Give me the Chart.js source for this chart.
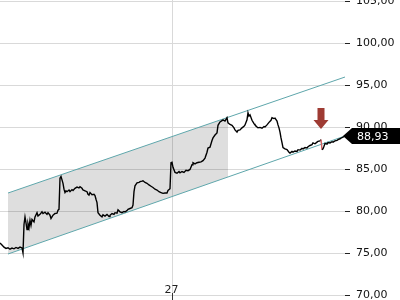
<!DOCTYPE html>
<html lang="en">
<head>
  <meta charset="UTF-8">
  <title>Price channel</title>
  <script src="https://cdn.jsdelivr.net/npm/chart.js"></script>
  <style>
    html, body { margin: 0; padding: 0; background: #fff; }
    canvas { display: block; }
  </style>
</head>
<body>
  <canvas id="myChart" width="400" height="300" style="width: 400px; height: 300px;"></canvas>

  <script>
    // price series: bar index / close
    const barIndex = [0,2,4,6,8,10,12,14,16,18,20,22,23,24,25,26,27,28,29,30,31,32,34,35,37,38,40,42,43,45,47,48,50,51,52,53,55,57,58,59,60,61,62,63,64,65,66,67,69,70,72,73,75,77,79,80,82,83,85,87,88,89,90,92,94,95,96,97,98,100,102,103,105,107,109,110,112,114,115,117,118,120,122,124,125,127,128,130,132,133,134,135,137,139,140,142,143,145,147,149,151,153,155,157,159,161,163,165,167,168,170,171,172,173,175,177,179,180,182,184,186,188,190,192,193,195,197,199,201,203,205,207,208,210,212,213,215,217,218,220,222,223,225,227,228,230,232,234,235,237,238,240,242,244,245,247,248,249,250,252,254,255,257,258,260,262,264,265,267,269,271,272,274,275,277,278,279,280,281,282,283,285,287,289,290,292,293,295,297,298,300,302,303,305,307,308,310,312,313,315,317,318,320,321,322,323,324,325,327,328,330,332,333,335,337,338,340,342,344,345];
    const closes = [76.19,75.95,75.70,75.55,75.62,75.45,75.58,75.50,75.66,75.55,75.70,75.60,75.00,78.40,79.30,78.60,77.80,78.50,78.00,78.90,78.30,79.00,78.70,79.30,79.80,79.40,79.60,79.90,79.70,79.85,79.60,79.80,79.50,79.10,79.30,79.50,79.70,79.75,80.10,80.20,83.90,84.10,83.70,83.30,82.60,82.20,82.40,82.30,82.50,82.30,82.55,82.45,82.70,82.85,82.75,82.90,82.70,82.50,82.40,82.30,82.00,81.90,82.20,81.95,82.00,81.85,81.40,81.00,79.80,79.50,79.30,79.55,79.40,79.60,79.35,79.50,79.70,79.60,79.80,79.75,80.15,79.90,79.80,79.95,79.90,80.05,80.20,80.30,80.40,80.70,82.30,83.00,83.35,83.40,83.50,83.55,83.60,83.40,83.30,83.10,82.95,82.80,82.60,82.50,82.30,82.20,82.10,82.15,82.15,82.45,82.65,85.75,85.80,85.20,84.60,84.50,84.70,84.55,84.70,84.60,84.85,84.80,84.95,85.50,85.75,85.60,85.75,85.80,85.85,86.00,86.30,87.00,87.50,87.60,88.40,88.70,89.05,89.30,90.20,90.60,90.75,90.85,90.70,91.10,90.50,90.30,90.20,89.90,89.65,89.40,89.60,89.65,89.90,90.10,90.25,90.85,91.70,91.30,91.45,90.80,90.40,90.25,90.00,89.90,89.95,89.85,90.05,90.00,90.25,90.55,90.80,91.10,91.00,91.05,90.70,90.25,89.90,89.40,88.70,88.15,87.55,87.40,87.30,87.00,86.90,87.10,87.00,87.15,87.10,87.30,87.25,87.45,87.40,87.55,87.50,87.65,87.80,87.90,88.10,88.00,88.20,88.30,88.35,88.50,87.30,87.40,87.70,88.05,87.95,88.15,88.10,88.25,88.20,88.35,88.40,88.50,88.60,88.75,88.85,88.93];
    const lastPrice = 88.93;
    const downBar = 321;

    // trend channel
    const channelX = [8, 345];
    const channelLower = [74.88, 88.93];
    const channelUpper = [82.14, 95.95];
    const shadeX = [8, 228];
    const shadeLower = [74.88, 84.05];
    const shadeUpper = [82.14, 91.16];

    // signal arrow
    const arrowX = 321;
    const arrowTop = 92.26;
    const arrowTip = 89.76;

    // axes
    const yTicks = [70, 75, 80, 85, 90, 95, 100, 105];
    const xTickValue = 172;
    const xTickLabel = '27';

    const FONT = '11px "DejaVu Sans"';
    const fmt = v => v.toFixed(2).replace('.', ',');
    const pts = (xs, ys) => xs.map((x, i) => ({ x: x, y: ys[i] }));

    const overlay = {
      id: 'overlay',
      afterDraw(chart) {
        const ctx = chart.ctx;
        const xs = chart.scales.x, ys = chart.scales.y;
        const area = chart.chartArea;
        ctx.save();

        // x label "27" with its tick
        const tx = Math.round(xs.getPixelForValue(xTickValue)) + 0.5;
        ctx.strokeStyle = '#333';
        ctx.lineWidth = 1;
        ctx.beginPath();
        ctx.moveTo(tx, area.bottom - 7);
        ctx.lineTo(tx, area.bottom);
        ctx.stroke();
        ctx.font = FONT;
        ctx.fillStyle = '#222';
        ctx.textAlign = 'center';
        ctx.textBaseline = 'bottom';
        ctx.fillText(xTickLabel, tx - 1, area.bottom - 4);

        // red arrow
        const ax = xs.getPixelForValue(arrowX);
        const top = ys.getPixelForValue(arrowTop);
        const tip = ys.getPixelForValue(arrowTip);
        const neck = tip - 9;
        ctx.fillStyle = '#9e3b33';
        ctx.beginPath();
        ctx.moveTo(ax - 3.5, top);
        ctx.lineTo(ax + 3.5, top);
        ctx.lineTo(ax + 3.5, neck);
        ctx.lineTo(ax + 7.5, neck);
        ctx.lineTo(ax, tip);
        ctx.lineTo(ax - 7.5, neck);
        ctx.lineTo(ax - 3.5, neck);
        ctx.closePath();
        ctx.fill();

        // last price tag
        const py = ys.getPixelForValue(lastPrice);
        const r = area.right;
        ctx.fillStyle = '#000';
        ctx.beginPath();
        ctx.moveTo(r - 2, py);
        ctx.lineTo(r + 7, py - 8);
        ctx.lineTo(chart.width, py - 8);
        ctx.lineTo(chart.width, py + 8);
        ctx.lineTo(r + 7, py + 8);
        ctx.closePath();
        ctx.fill();
        ctx.fillStyle = '#fff';
        ctx.textAlign = 'left';
        ctx.textBaseline = 'middle';
        ctx.fillText(fmt(lastPrice), r + 12, py + 1);

        ctx.restore();
      }
    };

    const ctx = document.getElementById('myChart').getContext('2d');
    const myChart = new Chart(ctx, {
      type: 'line',
      data: {
        datasets: [{
          label: 'price',
          data: pts(barIndex, closes),
          borderColor: '#000',
          borderWidth: 1.4,
          pointRadius: 0,
          tension: 0,
          fill: false,
          order: 0,
          segment: {
            borderColor: c => (c.p0.parsed.x === downBar ? '#d06060' : undefined)
          }
        }, {
          label: 'upper',
          data: pts(channelX, channelUpper),
          borderColor: '#5ea6ab',
          borderWidth: 1,
          pointRadius: 0,
          fill: false,
          order: 1
        }, {
          label: 'lower',
          data: pts(channelX, channelLower),
          borderColor: '#5ea6ab',
          borderWidth: 1,
          pointRadius: 0,
          fill: false,
          order: 2
        }, {
          label: 'shadeUpper',
          data: pts(shadeX, shadeUpper),
          borderWidth: 0,
          borderColor: 'rgba(0,0,0,0)',
          backgroundColor: 'rgba(0,0,0,0.13)',
          pointRadius: 0,
          fill: '+1',
          order: 3
        }, {
          label: 'shadeLower',
          data: pts(shadeX, shadeLower),
          borderWidth: 0,
          borderColor: 'rgba(0,0,0,0)',
          pointRadius: 0,
          fill: false,
          order: 4
        }]
      },
      options: {
        responsive: false,
        maintainAspectRatio: false,
        animation: false,
        layout: { padding: 0 },
        plugins: {
          legend: { display: false },
          tooltip: { enabled: false }
        },
        scales: {
          x: {
            type: 'linear',
            min: 0,
            max: 345,
            afterBuildTicks: s => { s.ticks = [{ value: xTickValue }]; },
            afterFit: s => { s.height = 0; s.paddingLeft = 0; s.paddingRight = 0; },
            ticks: { display: false },
            grid: { color: '#d9d9d9', drawTicks: false },
            border: { display: false }
          },
          y: {
            position: 'right',
            min: 69.405,
            max: 105.12,
            afterBuildTicks: s => { s.ticks = yTicks.map(v => ({ value: v })); },
            afterFit: s => { s.width = 55; s.paddingTop = 0; s.paddingBottom = 0; },
            ticks: {
              color: '#111',
              padding: 6,
              font: { family: 'DejaVu Sans', size: 11 },
              callback: v => fmt(v)
            },
            grid: { color: '#d9d9d9', tickColor: '#222', tickLength: 5 },
            border: { display: false }
          }
        }
      },
      plugins: [overlay]
    });
  </script>
</body>
</html>
